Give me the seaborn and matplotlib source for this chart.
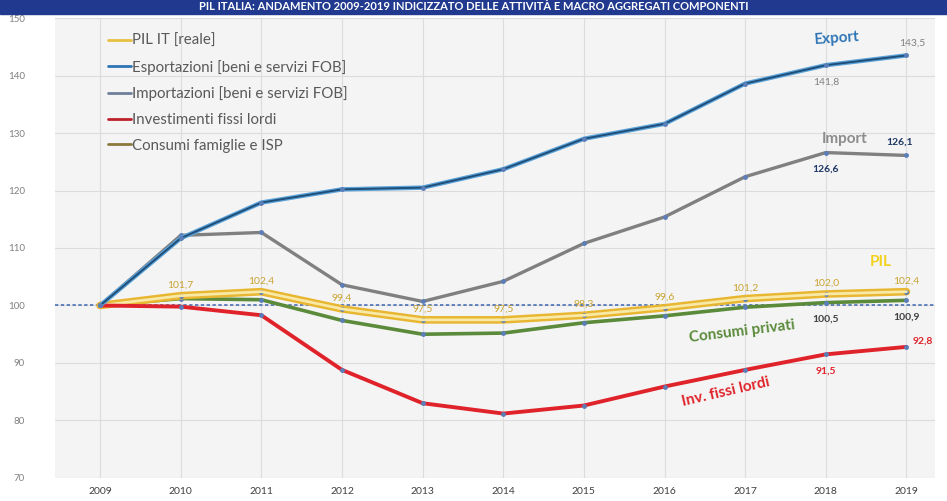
import matplotlib
matplotlib.use("Agg")
import matplotlib.pyplot as plt
from matplotlib.patches import Rectangle
import pandas as pd
import seaborn as sns

# Data (index 2009 = 100)
years = [2009, 2010, 2011, 2012, 2013, 2014, 2015, 2016, 2017, 2018, 2019]
pil = [100, 101.7, 102.4, 99.4, 97.5, 97.5, 98.3, 99.6, 101.2, 102.0, 102.4]
export = [100, 111.7, 117.9, 120.2, 120.5, 123.7, 129.0, 131.6, 138.6, 141.8, 143.5]
imports = [100, 112.2, 112.7, 103.6, 100.7, 104.2, 110.8, 115.4, 122.4, 126.6, 126.1]
investimenti = [100, 99.8, 98.3, 88.8, 83.0, 81.2, 82.6, 85.9, 88.8, 91.5, 92.8]
consumi = [100, 101.2, 101.0, 97.4, 95.0, 95.2, 97.0, 98.2, 99.7, 100.5, 100.9]

legend_labels = ["PIL IT [reale]", "Esportazioni [beni e servizi FOB]",
                 "Importazioni [beni e servizi FOB]", "Investimenti fissi lordi",
                 "Consumi famiglie e ISP"]

df = pd.DataFrame({"anno": years, "PIL": pil, "Export": export, "Import": imports,
                   "Inv": investimenti, "Consumi": consumi})

sns.set_style("whitegrid")
plt.rcParams["font.family"] = ["Lato", "DejaVu Sans"]

fig = plt.figure(figsize=(9.47, 5.01), dpi=100)
ax = fig.add_axes([0.058, 0.046, 0.929, 0.918])
ax.set_facecolor("#f4f4f4")

# horizontal reference at 100
ax.axhline(100, color="#4a6fb5", lw=1.2, ls=(0, (2, 1.5)), zorder=2)

mk = dict(marker="o", markersize=3.5, markerfacecolor="#5b7db8", markeredgewidth=0)

# lines
sns.lineplot(data=df, x="anno", y="Consumi", ax=ax, color="#5a8a3a", lw=2.6, zorder=3, **mk)
sns.lineplot(data=df, x="anno", y="PIL", ax=ax, color="#e8b630", lw=5.5, zorder=4, **mk)
sns.lineplot(data=df, x="anno", y="PIL", ax=ax, color="#f8e9a6", lw=2.0, zorder=4)
sns.lineplot(data=df, x="anno", y="Inv", ax=ax, color="#e0232a", lw=2.8, zorder=4, **mk)
sns.lineplot(data=df, x="anno", y="Import", ax=ax, color="#808080", lw=2.4, zorder=4, **mk)
sns.lineplot(data=df, x="anno", y="Export", ax=ax, color="#5aa2d8", lw=3.2, zorder=5)
sns.lineplot(data=df, x="anno", y="Export", ax=ax, color="#1f4e79", lw=1.4, zorder=5, **mk)

ax.set_xlim(2008.44, 2019.35)
ax.set_ylim(70, 150)
ax.set_xticks(years)
ax.set_yticks(range(70, 151, 10))
ax.set_xlabel("")
ax.set_ylabel("")
ax.tick_params(axis="x", labelsize=7.5, colors="#404040", pad=3)
ax.tick_params(axis="y", labelsize=7, colors="#808080", pad=18)
ax.grid(color="#dcdcdc", lw=0.8)
for s in ax.spines.values():
    s.set_visible(False)

# value labels
def fmt(v):
    return f"{v:.1f}".replace(".", ",")

for x, v in zip(years[1:], pil[1:]):
    ax.annotate(fmt(v), (x, v), xytext=(0, 6), textcoords="offset points",
                ha="center", fontsize=7.5, color="#c9a330")

lab = [
    (2019, export[10], (4, 7), "#808080", "normal"),
    (2018, export[9], (0, -14), "#808080", "normal"),
    (2018, imports[9], (0, -14), "#1f3864", "bold"),
    (2019, imports[10], (-5, 8), "#1f3864", "bold"),
    (2018, consumi[9], (0, -14), "#404040", "bold"),
    (2019, consumi[10], (0, -14), "#404040", "bold"),
    (2018, investimenti[9], (0, -14), "#e0232a", "bold"),
    (2019, investimenti[10], (12, 2), "#e0232a", "bold"),
]
for x, v, off, c, w in lab:
    ax.annotate(fmt(v), (x, v), xytext=off, textcoords="offset points",
                ha="center", fontsize=7.5, color=c, fontweight=w)

# series names
ax.text(2017.85, 145.5, "Export", color="#2e75b6", fontsize=11, fontweight="bold", rotation=4)
ax.text(2017.95, 128.3, "Import", color="#8c8c8c", fontsize=11, fontweight="bold")
ax.text(2018.55, 106.8, "PIL", color="#f2d21b", fontsize=11, fontweight="bold")
ax.text(2016.3, 93.6, "Consumi privati", color="#5a8a3a", fontsize=11, fontweight="bold", rotation=7)
ax.text(2016.2, 82.6, "Inv. fissi lordi", color="#e0232a", fontsize=11, fontweight="bold", rotation=13)

# legend
colors_leg = ["#e8c040", "#2e75b6", "#6d7f99", "#c0202a", "#8a7a3a"]
handles = [plt.Line2D([], [], color=c, lw=2) for c in colors_leg]
ax.legend(handles, legend_labels, loc="upper left", bbox_to_anchor=(0.045, 0.995),
          frameon=False, fontsize=10.8, handlelength=1.5, handletextpad=0.1,
          labelspacing=0.78, labelcolor="#595959")

# title band
fig.patches.append(Rectangle((0, 1 - 14 / 501), 1, 14 / 501, transform=fig.transFigure,
                             color="#213a8f", zorder=0))
fig.text(0.5, 1 - 7 / 501, "PIL ITALIA: ANDAMENTO 2009-2019 INDICIZZATO DELLE ATTIVITÀ E MACRO AGGREGATI COMPONENTI",
         ha="center", va="center", color="white", fontsize=8, fontweight="bold")

fig.savefig("out.png", dpi=100)
plt.close(fig)
